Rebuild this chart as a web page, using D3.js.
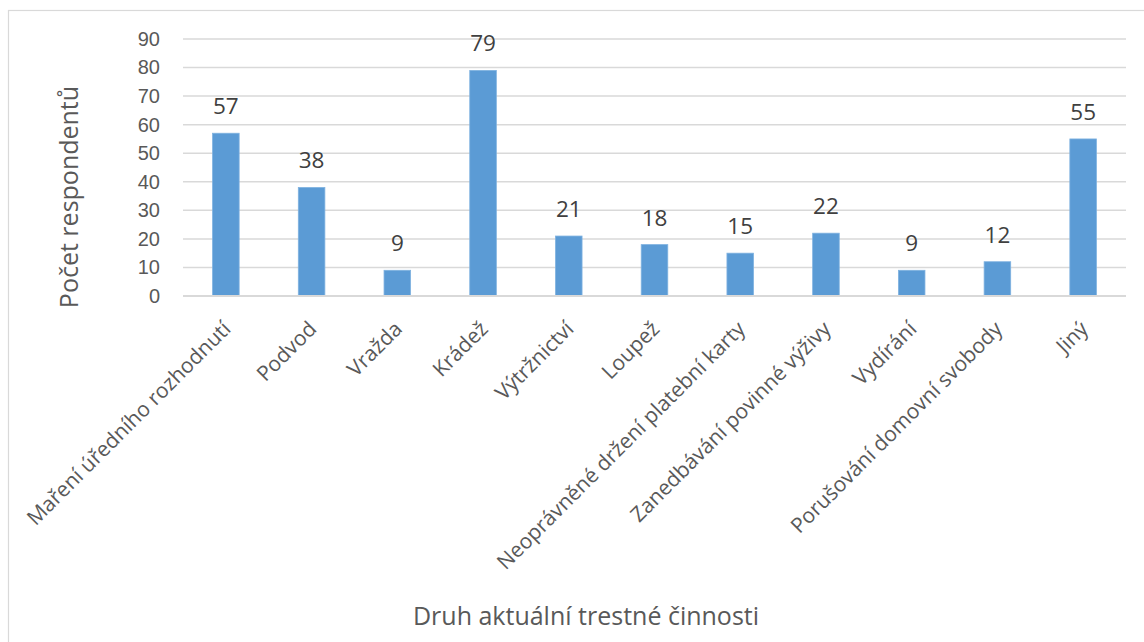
<!DOCTYPE html>
<html>
<head>
<meta charset="utf-8">
<script src="https://cdn.jsdelivr.net/npm/d3@7"></script>
<style>
  body { margin: 0; background: #fff; }
  svg { display: block; font-family: "Open Sans", sans-serif; }
</style>
</head>
<body>
<script>
// data
var categories = [
  "Maření úředního rozhodnutí",
  "Podvod",
  "Vražda",
  "Krádež",
  "Výtržnictví",
  "Loupež",
  "Neoprávněné držení platební karty",
  "Zanedbávání povinné výživy",
  "Vydírání",
  "Porušování domovní svobody",
  "Jiný"
];
var counts = [57, 38, 9, 79, 21, 18, 15, 22, 9, 12, 55];
var yTicks = [0, 10, 20, 30, 40, 50, 60, 70, 80, 90];
var yTitle = "Počet respondentů";
var xTitle = "Druh aktuální trestné činnosti";

const W = 1144, H = 642;
const plotLeft = 183, plotRight = 1126, plotTop = 39, plotBottom = 296;

var svg = d3.select("body").append("svg")
  .attr("width", W).attr("height", H);

// chart frame
svg.append("rect")
  .attr("x", 8.5).attr("y", 10.5)
  .attr("width", 1200).attr("height", 700)
  .attr("fill", "none").attr("stroke", "#d9d9d9").attr("stroke-width", 1.2);

var x = d3.scaleBand().domain(categories).range([plotLeft, plotRight]).paddingInner(0.69).paddingOuter(0.345);
var y = d3.scaleLinear().domain([0, 90]).range([plotBottom, plotTop]);

// gridlines
svg.append("g")
  .selectAll("line").data(yTicks).join("line")
  .attr("x1", plotLeft).attr("x2", plotRight)
  .attr("y1", d => y(d)).attr("y2", d => y(d))
  .attr("stroke", "#d9d9d9").attr("stroke-width", 1.5);

// y axis labels
var yAxis = svg.append("g")
  .attr("transform", "translate(" + (plotLeft - 12) + ",0)")
  .call(d3.axisLeft(y).tickValues(yTicks).tickSize(0).tickPadding(11));
yAxis.select(".domain").remove();
yAxis.selectAll("text")
  .attr("fill", "#595959").style("font-size", "20px");

// bars
svg.append("g")
  .selectAll("rect").data(counts).join("rect")
  .attr("x", (d, i) => x(categories[i]))
  .attr("y", d => y(d))
  .attr("width", x.bandwidth())
  .attr("height", d => y(0) - y(d))
  .attr("fill", "#5b9bd5")
  .attr("stroke", "#7fb2e0").attr("stroke-width", 0.8);

// data labels
svg.append("g")
  .selectAll("text").data(counts).join("text")
  .attr("x", (d, i) => x(categories[i]) + x.bandwidth() / 2)
  .attr("y", d => y(d) - 19)
  .attr("text-anchor", "middle")
  .attr("fill", "#404040")
  .style("font-size", "22.5px")
  .text(d => d);

// x axis line
svg.append("line")
  .attr("x1", plotLeft).attr("x2", plotRight)
  .attr("y1", y(0)).attr("y2", y(0))
  .attr("stroke", "#d9d9d9").attr("stroke-width", 1.8);

// rotated category labels
svg.append("g")
  .selectAll("text").data(categories).join("text")
  .attr("transform", d => "translate(" + (x(d) + x.bandwidth() / 2 + 1) + ",325) rotate(-45)")
  .attr("text-anchor", "end")
  .attr("dy", "0.35em")
  .attr("fill", "#595959")
  .style("font-size", "21px")
  .text(d => d);

// axis titles
svg.append("text")
  .attr("transform", "translate(78,197) rotate(-90)")
  .attr("text-anchor", "middle")
  .attr("fill", "#595959")
  .style("font-size", "25px")
  .text(yTitle);

svg.append("text")
  .attr("x", 586).attr("y", 625)
  .attr("text-anchor", "middle")
  .attr("fill", "#595959")
  .style("font-size", "25px")
  .text(xTitle);
</script>
</body>
</html>
